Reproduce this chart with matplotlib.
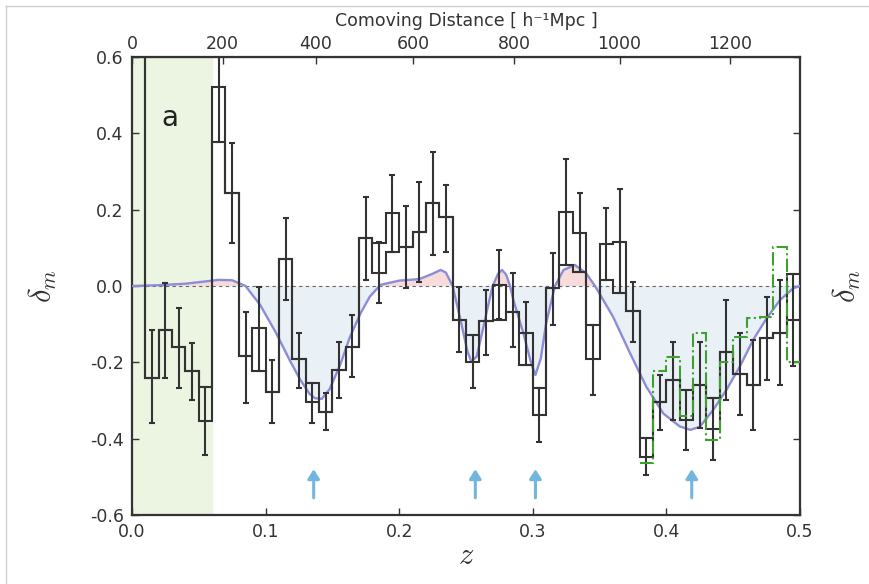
import numpy as np
import matplotlib
matplotlib.use("Agg")
import matplotlib.pyplot as plt
from matplotlib.lines import Line2D

plt.rcParams['font.family'] = ['DejaVu Sans']
plt.rcParams['mathtext.fontset'] = 'cm'

# redshift bins (dz = 0.01)
z_edges = np.linspace(0.0, 0.5, 51)

# density contrast per bin; second estimate where the two differ
delta = [1.2, -0.24, -0.115, -0.16, -0.222, -0.265, 0.522, 0.244, -0.183, -0.11,
         -0.277, 0.07, -0.192, -0.255, -0.329, -0.22, -0.159, 0.125, 0.112, 0.19,
         0.103, 0.142, 0.217, 0.18, -0.089, -0.128, -0.093, 0.003, -0.067, -0.124,
         -0.268, -0.006, 0.195, 0.14, -0.102, 0.11, 0.116, -0.065, -0.399, -0.303,
         -0.247, -0.272, -0.259, -0.294, -0.172, -0.231, -0.259, -0.137, -0.122, 0.031]
delta_alt = [1.2, -0.24, -0.115, -0.16, -0.222, -0.355, 0.378, 0.244, -0.183, -0.224,
             -0.277, 0.07, -0.192, -0.303, -0.329, -0.22, -0.159, 0.125, 0.035, 0.09,
             0.103, 0.142, 0.217, 0.18, -0.089, -0.198, -0.093, -0.09, -0.067, -0.207,
             -0.338, -0.006, 0.055, 0.037, -0.192, 0.016, -0.019, -0.065, -0.447, -0.303,
             -0.247, -0.351, -0.259, -0.375, -0.172, -0.231, -0.259, -0.137, -0.122, -0.089]

# error bar ends
err_lo = [0.8, -0.36, -0.24, -0.267, -0.30, -0.443, 0.378, 0.113, -0.307, -0.224,
          -0.36, -0.037, -0.267, -0.36, -0.377, -0.294, -0.238, 0.016, -0.045, 0.09,
          -0.005, 0.011, 0.081, 0.09, -0.172, -0.268, -0.181, -0.087, -0.159, -0.207,
          -0.408, -0.102, 0.055, 0.037, -0.286, 0.016, -0.019, -0.146, -0.495, -0.377,
          -0.35, -0.43, -0.372, -0.456, -0.299, -0.338, -0.377, -0.246, -0.259, -0.209]
err_hi = [1.6, -0.115, 0.008, -0.058, -0.149, -0.265, 0.67, 0.375, -0.067, -0.002,
          -0.194, 0.178, -0.123, -0.253, -0.28, -0.146, -0.076, 0.234, 0.115, 0.29,
          0.21, 0.273, 0.352, 0.265, -0.002, -0.128, -0.01, 0.094, 0.033, -0.041,
          -0.268, 0.086, 0.334, 0.243, -0.102, 0.204, 0.253, 0.011, -0.399, -0.233,
          -0.146, -0.272, -0.146, -0.294, -0.037, -0.124, -0.141, -0.028, 0.016, 0.031]

# comparison sample (dash-dot)
green_edges = np.linspace(0.38, 0.50, 13)
green_delta = [-0.465, -0.224, -0.185, -0.34, -0.122, -0.403, -0.198, -0.133,
               -0.085, -0.08, 0.103, -0.2]

# void model profile
model_z = [0.0, 0.02, 0.04, 0.055, 0.065, 0.075, 0.085, 0.096, 0.108, 0.118,
           0.126, 0.133, 0.137, 0.142, 0.148, 0.156, 0.163, 0.171, 0.178, 0.186,
           0.20, 0.215, 0.225, 0.231, 0.235, 0.240, 0.246, 0.251, 0.254, 0.258,
           0.262, 0.266, 0.270, 0.274, 0.277, 0.280, 0.283, 0.2855, 0.293, 0.299,
           0.302, 0.306, 0.310, 0.3166, 0.323, 0.3316, 0.340, 0.3466, 0.360, 0.3728,
           0.385, 0.3977, 0.41, 0.418, 0.425, 0.435, 0.445, 0.455, 0.465, 0.475,
           0.485, 0.495, 0.5]
model_delta = [0.0, 0.002, 0.006, 0.012, 0.016, 0.015, 0.0, -0.05, -0.124, -0.194,
               -0.246, -0.283, -0.294, -0.296, -0.27, -0.205, -0.135, -0.072, -0.028, 0.003,
               0.014, 0.018, 0.032, 0.042, 0.035, 0.0, -0.09, -0.17, -0.198, -0.185,
               -0.124, -0.06, 0.0, 0.032, 0.042, 0.03, 0.0, -0.037, -0.124, -0.205,
               -0.233, -0.19, -0.098, 0.0, 0.042, 0.055, 0.033, 0.0, -0.08, -0.176,
               -0.264, -0.334, -0.368, -0.377, -0.369, -0.325, -0.272, -0.211, -0.141, -0.085,
               -0.037, -0.006, 0.0]

arrow_z = [0.136, 0.257, 0.302, 0.419]
dist_ticks = [0, 200, 400, 600, 800, 1000, 1200]

# comoving distance in h^-1 Mpc for flat LCDM, Om = 0.3
zz = np.linspace(0.0, 1.0, 2001)
inv_e = 1.0 / np.sqrt(0.3 * (1 + zz) ** 3 + 0.7)
dc = 2997.92 * np.concatenate([[0.0], np.cumsum(0.5 * (inv_e[1:] + inv_e[:-1]) * np.diff(zz))])


def z2d(z):
    return np.interp(z, zz, dc)


def d2z(d):
    return np.interp(d, dc, zz)


fig = plt.figure(figsize=(8.7, 5.84), dpi=100)
ax = fig.add_axes([0.1517, 0.1182, 0.7678, 0.7842])

ax.set_xlim(0, 0.5)
ax.set_ylim(-0.6, 0.6)

# excluded local volume
ax.axvspan(0, 0.06, color='#ebf5e2', zorder=0)

mz = np.array(model_z)
md = np.array(model_delta)
ax.fill_between(mz, md, 0, where=md < 0, interpolate=True, color='#e9f1f7', lw=0, zorder=1)
ax.fill_between(mz, md, 0, where=md > 0, interpolate=True, color='#f8dcdc', lw=0, zorder=1)
ax.axhline(0, color='0.4', lw=0.8, ls=(0, (3, 3)), zorder=2)
ax.plot(mz, md, color='#8c8cd8', lw=1.7, zorder=3)

# binned density contrast
ax.stairs(delta, z_edges, baseline=None, color='#333333', lw=1.5, zorder=4)
ax.stairs(delta_alt, z_edges, baseline=None, color='#333333', lw=1.5, zorder=4)
centers = 0.5 * (z_edges[1:] + z_edges[:-1])
lo = np.array(err_lo)
hi = np.array(err_hi)
ax.errorbar(centers, 0.5 * (lo + hi), yerr=0.5 * (hi - lo), fmt='none',
            ecolor='#333333', elinewidth=1.5, capsize=2.5, capthick=1.5, zorder=4)

ax.stairs(green_delta, green_edges, baseline=None, color='#3f9f2f', lw=1.5,
          ls='-.', zorder=5)

for za in arrow_z:
    ax.annotate('', xy=(za, -0.48), xytext=(za, -0.555),
                arrowprops=dict(arrowstyle='-|>,head_width=0.35,head_length=0.55',
                                color='#72b6e0', lw=2.2, shrinkA=0, shrinkB=0),
                zorder=6)

ax.text(0.028, 0.44, 'a', fontsize=20, ha='center', va='center', color='#222222')

ax.set_xticks([0.0, 0.1, 0.2, 0.3, 0.4, 0.5])
ax.set_yticks([-0.6, -0.4, -0.2, 0.0, 0.2, 0.4, 0.6])
ax.xaxis.set_major_formatter(plt.FormatStrFormatter('%.1f'))
ax.yaxis.set_major_formatter(plt.FormatStrFormatter('%.1f'))
ax.tick_params(direction='in', length=5, width=1, labelsize=12.5,
               right=True, colors='#333333')
ax.tick_params(axis='x', pad=6)
ax.tick_params(axis='y', pad=6)
for sp in ax.spines.values():
    sp.set_linewidth(1.6)
    sp.set_color('#333333')

ax.set_xlabel('$z$', fontsize=22, labelpad=0, color='#333333')
ax.set_ylabel(r'$\delta_m$', fontsize=22, labelpad=22, color='#333333')
ax.text(1.07, 0.5, r'$\delta_m$', transform=ax.transAxes, fontsize=22,
        rotation=90, ha='center', va='center', color='#333333')

top = ax.secondary_xaxis('top', functions=(z2d, d2z))
top.set_xticks(dist_ticks)
top.tick_params(direction='in', length=5, width=1, labelsize=12.5, colors='#333333', pad=3)
top.set_xlabel('Comoving Distance [ h\u207b\u00b9Mpc ]', fontsize=12.5, labelpad=6,
               color='#333333')

# thin frame lines around the panel
fig.add_artist(Line2D([0.007, 0.007], [0.0, 0.99], transform=fig.transFigure,
                      color='#cfcfcf', lw=1))
fig.add_artist(Line2D([0.007, 1.0], [0.99, 0.99], transform=fig.transFigure,
                      color='#cfcfcf', lw=1))

fig.savefig('out.png', dpi=100)
